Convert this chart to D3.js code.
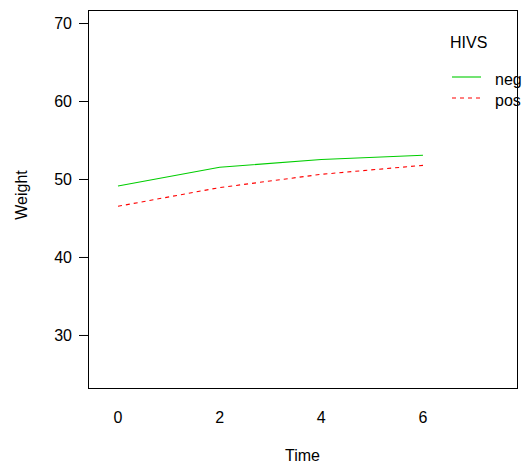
<!DOCTYPE html>
<html>
<head>
<meta charset="utf-8">
<script src="https://cdn.jsdelivr.net/npm/d3@7"></script>
<style>
  body { margin: 0; background: #fff; }
  text { font-family: "Liberation Sans", Arial, sans-serif; }
</style>
</head>
<body>
<svg id="chart"></svg>
<script>
// Data (mean weight by time and HIV status)
var times = [0, 2, 4, 6];
var negWeights = [49.1, 51.5, 52.5, 53.05];
var posWeights = [46.5, 48.9, 50.6, 51.75];
var groups = ["neg", "pos"];
var xTicks = [0, 2, 4, 6];
var yTicks = [30, 40, 50, 60, 70];

var width = 524, height = 466;
// note: "top" is a reserved window property, so use plot* names
var plotLeft = 88, plotRight = 517, plotTop = 10, plotBottom = 388;

var svg = d3.select("#chart")
    .attr("width", width)
    .attr("height", height);

// Scales
var x = d3.scaleLinear().domain([-0.59, 7.85]).range([plotLeft, plotRight]);
var y = d3.scaleLinear().domain([23.2, 71.67]).range([plotBottom, plotTop]);

var colors = { neg: "#00cd00", pos: "#ff0000" };
var dashes = { neg: null, pos: "4,4" };

var series = [
    { name: "neg", values: negWeights },
    { name: "pos", values: posWeights }
];

var line = d3.line()
    .x(function(d, i) { return x(times[i]); })
    .y(function(d) { return y(d); });

// Lines
svg.selectAll(".series")
    .data(series)
    .enter().append("path")
    .attr("class", "series")
    .attr("d", function(d) { return line(d.values); })
    .attr("fill", "none")
    .attr("stroke", function(d) { return colors[d.name]; })
    .attr("stroke-width", 1.1)
    .attr("stroke-dasharray", function(d) { return dashes[d.name]; });

// Y axis (ticks on the left edge of the box)
var yAxis = d3.axisLeft(y).tickValues(yTicks).tickSize(9).tickPadding(7);
var gy = svg.append("g")
    .attr("transform", "translate(" + plotLeft + ",0)")
    .call(yAxis);
gy.select(".domain").remove();
gy.selectAll("text")
    .attr("font-size", 16)
    .attr("fill", "#000")
    .style("font-family", "'Liberation Sans', Arial, sans-serif");

// X labels only, no ticks
svg.selectAll(".xlab")
    .data(xTicks)
    .enter().append("text")
    .attr("class", "xlab")
    .attr("x", function(d) { return x(d); })
    .attr("y", 423)
    .attr("text-anchor", "middle")
    .attr("font-size", 16)
    .text(function(d) { return d; });

// Axis titles
svg.append("text")
    .attr("x", (plotLeft + plotRight) / 2)
    .attr("y", 461)
    .attr("text-anchor", "middle")
    .attr("font-size", 16)
    .text("Time");

svg.append("text")
    .attr("transform", "translate(27,195) rotate(-90)")
    .attr("text-anchor", "middle")
    .attr("font-size", 16)
    .text("Weight");

// Legend
var legendX = 452;
svg.append("text")
    .attr("x", 450)
    .attr("y", 48)
    .attr("font-size", 16)
    .text("HIVS");

var legend = svg.selectAll(".legend")
    .data(groups)
    .enter().append("g")
    .attr("class", "legend")
    .attr("transform", function(d, i) { return "translate(" + legendX + "," + (77 + i * 21) + ")"; });

legend.append("line")
    .attr("x1", 0).attr("x2", 29)
    .attr("stroke", function(d) { return colors[d]; })
    .attr("stroke-width", 1.1)
    .attr("stroke-dasharray", function(d) { return dashes[d]; });

legend.append("text")
    .attr("x", 43)
    .attr("y", 7.5)
    .attr("font-size", 16)
    .text(function(d) { return d; });

// Plot box
svg.append("rect")
    .attr("x", plotLeft + 0.5)
    .attr("y", plotTop + 0.5)
    .attr("width", plotRight - plotLeft)
    .attr("height", plotBottom - plotTop)
    .attr("fill", "none")
    .attr("stroke", "#000")
    .attr("stroke-width", 1);
</script>
</body>
</html>
